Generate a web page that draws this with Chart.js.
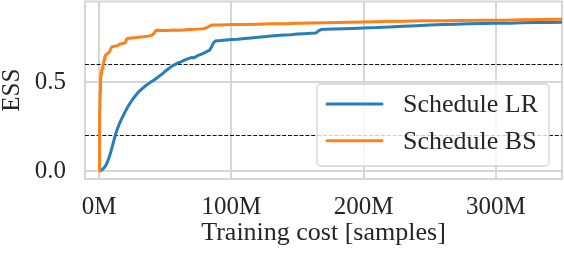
<!DOCTYPE html>
<html>
<head>
<meta charset="utf-8">
<script src="https://cdn.jsdelivr.net/npm/chart.js@4.4.1/dist/chart.umd.min.js"></script>
<style>
html,body{margin:0;padding:0;background:#fff;}
#wrap{width:564px;height:256px;position:relative;}
</style>
</head>
<body>
<div id="wrap"><canvas id="c" width="564" height="256"></canvas></div>
<script>
// Training cost in millions of samples
const lrX = [0, 1, 2, 3, 4, 5, 6, 7, 8, 9, 10, 11, 12, 13, 14, 15.5, 17, 18.5, 20, 21.5, 23, 24.5, 26, 28, 30, 32, 35, 38, 40, 42, 45, 48, 50, 52, 55, 58, 60, 62, 65, 67, 70, 72, 75, 78, 80, 82, 83.5, 85, 86.5, 88, 92, 96, 100, 105, 110, 115, 120, 125, 130, 135, 140, 145, 150, 155, 160, 164, 166, 168, 172, 178, 185, 192, 200, 210, 220, 230, 240, 250, 260, 270, 280, 290, 300, 310, 320, 330, 340, 350];
const lrY = [0.0, 0.002, 0.006, 0.012, 0.02, 0.03, 0.045, 0.063, 0.085, 0.11, 0.137, 0.165, 0.193, 0.218, 0.24, 0.268, 0.292, 0.315, 0.337, 0.358, 0.377, 0.393, 0.41, 0.428, 0.446, 0.46, 0.479, 0.495, 0.505, 0.514, 0.532, 0.548, 0.562, 0.573, 0.59, 0.602, 0.61, 0.615, 0.626, 0.632, 0.64, 0.638, 0.652, 0.66, 0.667, 0.675, 0.68, 0.698, 0.722, 0.733, 0.735, 0.738, 0.741, 0.743, 0.747, 0.75, 0.753, 0.757, 0.76, 0.763, 0.766, 0.768, 0.772, 0.774, 0.776, 0.778, 0.79, 0.797, 0.799, 0.8, 0.801, 0.803, 0.806, 0.808, 0.812, 0.815, 0.818, 0.822, 0.825, 0.827, 0.83, 0.831, 0.832, 0.833, 0.835, 0.836, 0.837, 0.838];
const bsX = [0, 0.3, 0.6, 0.9, 1.2, 1.6, 2.0, 2.5, 3.0, 3.5, 4.0, 4.5, 5.2, 6.0, 7.0, 8.0, 9.0, 9.8, 11, 12.5, 14, 15, 16, 17, 18.5, 20, 21, 23, 25, 28, 31, 34, 37, 40, 41.5, 43, 45, 48, 52, 56, 60, 64, 68, 72, 76, 79, 81, 83, 85, 88, 92, 96, 100, 110, 120, 130, 140, 150, 160, 170, 180, 190, 200, 215, 230, 245, 260, 275, 290, 305, 320, 335, 350];
const bsY = [0.0, 0.12, 0.3, 0.45, 0.52, 0.55, 0.565, 0.58, 0.595, 0.61, 0.63, 0.645, 0.655, 0.66, 0.665, 0.672, 0.69, 0.7, 0.702, 0.704, 0.706, 0.712, 0.716, 0.717, 0.72, 0.725, 0.745, 0.748, 0.75, 0.752, 0.755, 0.757, 0.76, 0.765, 0.775, 0.792, 0.793, 0.791, 0.792, 0.794, 0.793, 0.795, 0.797, 0.798, 0.8, 0.802, 0.806, 0.814, 0.822, 0.823, 0.823, 0.824, 0.825, 0.826, 0.827, 0.829, 0.83, 0.832, 0.834, 0.835, 0.836, 0.838, 0.84, 0.842, 0.844, 0.846, 0.847, 0.848, 0.849, 0.85, 0.852, 0.853, 0.855];
const seriesLabels = ['Schedule LR', 'Schedule BS'];
const seriesColors = ['#2a7db9', '#ff8018'];
const thresholds = [0.2, 0.6];
const xTickValues = [0, 100, 200, 300];
const xTickLabels = ['0M', '100M', '200M', '300M'];
const yTickValues = [0.0, 0.5];
const yTickLabels = ['0.0', '0.5'];
const xMin = -10.6, xMax = 350;
const yMin = -0.045, yMax = 0.955;

const FONT = "'Liberation Serif', 'Times New Roman', serif";
const TXT = '#262626';
const GRID = '#d6d6d6';

function pts(xs, ys) { return xs.map((x, i) => ({x: x, y: ys[i]})); }

const datasets = [
  {label: seriesLabels[0], data: pts(lrX, lrY), borderColor: seriesColors[0], borderWidth: 3, pointRadius: 0, tension: 0, order: 2, fill: false},
  {label: seriesLabels[1], data: pts(bsX, bsY), borderColor: seriesColors[1], borderWidth: 3, pointRadius: 0, tension: 0, order: 1, fill: false}
];
thresholds.forEach(t => datasets.push({
  label: 'thr' + t, data: [{x: xMin, y: t}, {x: xMax, y: t}], borderColor: '#111',
  borderWidth: 1.1, borderDash: [4, 1.8], pointRadius: 0, order: 3, fill: false
}));

const framePlugin = {
  id: 'frame',
  beforeDatasetsDraw(chart) {
    const a = chart.chartArea, ctx = chart.ctx;
    ctx.save();
    ctx.strokeStyle = GRID; ctx.lineWidth = 2;
    ctx.strokeRect(a.left, a.top, a.right - a.left, a.bottom - a.top);
    ctx.restore();
  }
};

const legendPlugin = {
  id: 'boxLegend',
  afterDraw(chart) {
    const a = chart.chartArea, ctx = chart.ctx;
    const w = 232, h = 82;
    const x0 = a.right - 13 - w, y0 = a.bottom - 13 - h;
    ctx.save();
    ctx.beginPath();
    if (ctx.roundRect) ctx.roundRect(x0, y0, w, h, 4); else ctx.rect(x0, y0, w, h);
    ctx.fillStyle = 'rgba(255,255,255,0.8)';
    ctx.fill();
    ctx.strokeStyle = '#d4d4d4'; ctx.lineWidth = 1.3;
    ctx.stroke();
    ctx.font = '26px ' + FONT;
    ctx.textBaseline = 'middle';
    ctx.fillStyle = TXT;
    seriesLabels.forEach((lab, i) => {
      const yy = y0 + 20 + i * 36.7;
      ctx.beginPath();
      ctx.strokeStyle = seriesColors[i]; ctx.lineWidth = 3; ctx.lineCap = 'round';
      ctx.moveTo(x0 + 10, yy); ctx.lineTo(x0 + 65, yy); ctx.stroke();
      ctx.fillText(lab, x0 + 86, yy + 1);
    });
    ctx.restore();
  }
};

new Chart(document.getElementById('c'), {
  type: 'line',
  data: {datasets: datasets},
  options: {
    responsive: false,
    animation: false,
    devicePixelRatio: 1,
    layout: {padding: {top: 1.5, right: 2, left: 0, bottom: 0}},
    plugins: {legend: {display: false}, tooltip: {enabled: false}},
    scales: {
      x: {
        type: 'linear', min: xMin, max: xMax,
        afterBuildTicks: s => { s.ticks = xTickValues.map(v => ({value: v})); },
        afterFit: s => { s.height = 77; s.paddingLeft = 0; s.paddingRight = 0; },
        ticks: {
          callback: (v) => xTickLabels[xTickValues.indexOf(v)],
          font: {family: FONT, size: 25}, color: TXT, padding: 13, maxRotation: 0, autoSkip: false
        },
        grid: {color: GRID, lineWidth: 2, drawTicks: false, tickLength: 0},
        border: {display: false},
        title: {display: true, text: 'Training cost [samples]', font: {family: FONT, size: 26}, color: TXT, padding: {top: 0, bottom: 7}}
      },
      y: {
        type: 'linear', min: yMin, max: yMax,
        afterBuildTicks: s => { s.ticks = yTickValues.map(v => ({value: v})); },
        afterFit: s => { s.width = 85; s.paddingTop = 0; s.paddingBottom = 0; },
        ticks: {
          callback: (v) => yTickLabels[yTickValues.indexOf(v)],
          font: {family: FONT, size: 25}, color: TXT, padding: 19
        },
        grid: {color: GRID, lineWidth: 2, drawTicks: false, tickLength: 0},
        border: {display: false},
        title: {display: true, text: 'ESS', font: {family: FONT, size: 25, lineHeight: 1.0}, color: TXT, padding: {top: 0, bottom: 0}}
      }
    }
  },
  plugins: [framePlugin, legendPlugin]
});
</script>
</body>
</html>
